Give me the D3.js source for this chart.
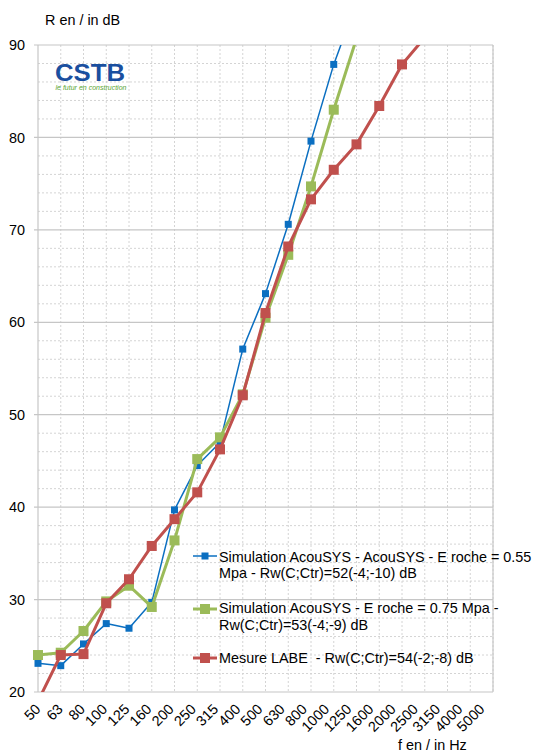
<!DOCTYPE html>
<html><head><meta charset="utf-8">
<script src="https://cdn.jsdelivr.net/npm/d3@7"></script>
<style>body{margin:0;background:#fff}svg{display:block;font-family:"Liberation Sans",Arial,sans-serif}</style>
</head><body><svg id="c" width="538" height="751"></svg>
<script>
const categories = ["50","63","80","100","125","160","200","250","315","400","500","630","800","1000","1250","1600","2000","2500","3150","4000","5000"];
const simAcou055 = [23.1,22.85,25.2,27.4,26.9,29.7,39.7,44.5,47.0,57.1,63.1,70.6,79.6,87.9,94.6,null,null,null,null,null,null];
const simAcou075 = [24.0,24.25,26.6,29.8,31.5,29.2,36.4,45.2,47.55,52.2,60.5,67.3,74.7,83.0,90.7,null,null,null,null,null,null];
const mesureLabe = [19.0,24.0,24.1,29.6,32.2,35.8,38.7,41.6,46.25,52.1,61.0,68.2,73.3,76.5,79.25,83.4,87.9,90.8,null,null,null];
const yTicks = [20,30,40,50,60,70,80,90];
const seriesNames = ["Simulation AcouSYS - AcouSYS - E roche = 0.55|Mpa - Rw(C;Ctr)=52(-4;-10) dB","Simulation AcouSYS - E roche = 0.75 Mpa -|Rw(C;Ctr)=53(-4;-9) dB","Mesure LABE  - Rw(C;Ctr)=54(-2;-8) dB"];
const colors = ["#0b6fc1","#9bbb59","#c0504d"];

const FS = 14.4;
const svg = d3.select("#c");
const L=38, R=493, T=45, B=692;
const x = d3.scalePoint().domain(categories).range([L,R]);
const xLabel = d3.scalePoint().domain(categories).range([L,R-11]);
const y = d3.scaleLinear().domain([20,90]).range([B,T]);

// minor gridlines
const minor = d3.range(22,90,2).filter(v=>v%10!==0);
svg.append("g").selectAll("line").data(minor).join("line")
 .attr("x1",L).attr("x2",R).attr("y1",d=>y(d)).attr("y2",d=>y(d))
 .attr("stroke","#d4d4d4").attr("stroke-dasharray","2,2");
svg.append("g").selectAll("line").data(categories.slice(1)).join("line")
 .attr("x1",d=>x(d)).attr("x2",d=>x(d)).attr("y1",T).attr("y2",B)
 .attr("stroke","#d4d4d4").attr("stroke-dasharray","2,2");
// major gridlines
svg.append("g").selectAll("line").data(yTicks).join("line")
 .attr("x1",L-4).attr("x2",R).attr("y1",d=>y(d)).attr("y2",d=>y(d))
 .attr("stroke","#c6c6c6").attr("stroke-width",1.2);
svg.append("line").attr("x1",L).attr("x2",L).attr("y1",T).attr("y2",B).attr("stroke","#c6c6c6").attr("stroke-width",1.2);
svg.append("line").attr("x1",R).attr("x2",R).attr("y1",T).attr("y2",B).attr("stroke","#c6c6c6").attr("stroke-width",1.2);

// y axis labels
const ya = svg.append("g").attr("transform",`translate(${L},0)`).call(d3.axisLeft(y).tickValues(yTicks).tickSize(0).tickPadding(13).tickFormat(d3.format("d")));
ya.select(".domain").remove();
ya.selectAll("text").attr("font-size",FS).attr("fill","#000").attr("font-family","Liberation Sans, Arial, sans-serif");

// x axis labels
const xa = svg.append("g").attr("transform",`translate(0,${B})`).call(d3.axisBottom(xLabel).tickSize(0).tickPadding(0));
xa.select(".domain").remove();
xa.selectAll("text").attr("font-size",FS).attr("fill","#000").attr("font-family","Liberation Sans, Arial, sans-serif")
 .attr("text-anchor","end").attr("dy",null).attr("y",null)
 .attr("transform","translate(3,18) rotate(-45)");

// titles
svg.append("text").attr("x",45).attr("y",25).attr("font-size",FS).text("R en / in dB");
svg.append("text").attr("x",398).attr("y",750).attr("font-size",FS).text("f en / in Hz");

// logo
svg.append("text").attr("x",55).attr("y",80.5).attr("font-size",23.5).attr("font-weight","bold").attr("fill","#1a4f9f").attr("textLength",70).attr("lengthAdjust","spacingAndGlyphs").text("CSTB");
svg.append("text").attr("x",55.5).attr("y",89.5).attr("font-size",7.5).attr("font-style","italic").attr("fill","#5aa632").attr("textLength",71).attr("lengthAdjust","spacingAndGlyphs").text("le futur en construction");

// series
svg.append("clipPath").attr("id","clp").append("rect").attr("x",0).attr("y",T).attr("width",538).attr("height",B-T);
const all = [simAcou055, simAcou075, mesureLabe];
const widths=[1.5,3,3], msz=[7,10,10];
const g = svg.append("g").attr("clip-path","url(#clp)");
all.forEach((s,i)=>{
  const pts = categories.map((c,j)=>[c,s[j]]).filter(p=>p[1]!==null);
  g.append("path").datum(pts).attr("fill","none").attr("stroke",colors[i]).attr("stroke-width",widths[i]).attr("stroke-linejoin","round")
   .attr("d",d3.line().x(p=>x(p[0])).y(p=>y(p[1])));
  g.append("g").selectAll("rect").data(pts.filter(p=>p[1]<=90 && p[1]>=20)).join("rect")
   .attr("x",p=>x(p[0])-msz[i]/2).attr("y",p=>y(p[1])-msz[i]/2).attr("width",msz[i]).attr("height",msz[i]).attr("fill",colors[i]);
});

// legend
const legY=[556,609,658], legTxt=[561.5,613,663.3];
seriesNames.forEach((n,i)=>{
  const lg = svg.append("g");
  lg.append("line").attr("x1",193).attr("x2",217).attr("y1",legY[i]).attr("y2",legY[i]).attr("stroke",colors[i]).attr("stroke-width",widths[i]);
  lg.append("rect").attr("x",205-msz[i]/2).attr("y",legY[i]-msz[i]/2).attr("width",msz[i]).attr("height",msz[i]).attr("fill",colors[i]);
  n.split("|").forEach((t,k)=>{
    lg.append("text").attr("x",219).attr("y",legTxt[i]+k*16.5).attr("font-size",FS).attr("xml:space","preserve").text(t);
  });
});
</script></body></html>
